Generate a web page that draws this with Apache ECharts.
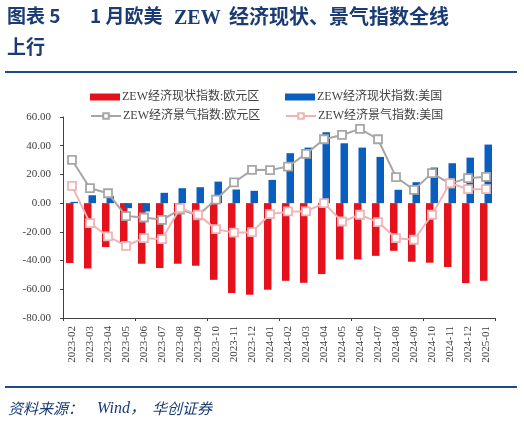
<!DOCTYPE html>
<html>
<head>
<meta charset="utf-8">
<script src="https://cdn.jsdelivr.net/npm/echarts@6/dist/echarts.min.js"></script>
<style>
html,body{margin:0;padding:0;background:#fff;}
#c{width:524px;height:424px;}
</style>
</head>
<body>
<div id="c"></div>
<script>
const categories = ['2023-02','2023-03','2023-04','2023-05','2023-06','2023-07','2023-08','2023-09','2023-10','2023-11','2023-12','2024-01','2024-02','2024-03','2024-04','2024-05','2024-06','2024-07','2024-08','2024-09','2024-10','2024-11','2024-12','2025-01'];
const euroCurrent = [-41.7,-45.5,-30.6,-27.3,-42.2,-45.2,-42.2,-43.6,-53.4,-62.6,-63.8,-60.3,-54.1,-55.5,-49.4,-39.2,-39.2,-36.7,-33.2,-40.8,-41.5,-44.5,-55.7,-54.1];
const usCurrent = [0.9,5.5,4.8,-3.5,-5.8,7.2,10.4,11.1,15.0,9.5,8.6,16.2,34.8,38.7,49.4,41.7,38.7,32.2,9.3,14.6,24.8,27.8,31.7,40.8];
const euroSentiment = [30.1,10.4,6.9,-9.0,-10.0,-11.6,-4.5,-8.5,2.5,14.4,23.2,23.0,25.5,34.3,44.5,47.5,51.7,44.5,18.1,9.3,20.9,13.6,17.4,18.3];
const usSentiment = [12.0,-13.9,-23.2,-29.7,-24.4,-25.0,-3.5,-8.0,-18.1,-20.6,-20.2,-7.7,-5.8,-5.8,0.0,-12.8,-8.1,-13.2,-24.4,-25.5,-8.1,14.0,9.7,9.7];
const seriesNames = ['ZEW经济现状指数:欧元区','ZEW经济现状指数:美国','ZEW经济景气指数:欧元区','ZEW经济景气指数:美国'];
const yTicks = {min:-80, max:60, interval:20};

const navy = '#1B3B74';
const serif = '"Liberation Serif","Noto Sans CJK SC",serif';
const cjk = '"Noto Sans CJK SC","Liberation Serif",sans-serif';
const chart = echarts.init(document.getElementById('c'), null, {renderer:'canvas'});

function legendAt(i, left, top, opts) {
  return Object.assign({
    data:[seriesNames[i]], left:left, top:top, itemWidth:30, itemHeight:7, padding:0,
    textStyle:{fontFamily:serif, fontSize:12, color:'#404040', padding:[0,0,0,-3]},
    selectedMode:false
  }, opts||{});
}

chart.setOption({
  animation:false,
  backgroundColor:'#fff',
  graphic:[
    {type:'text', left:7, top:6, style:{text:'图表 5', font:'bold 19px '+cjk, fill:navy}},
    {type:'text', left:90, top:6, style:{text:'1 月欧美', font:'bold 19px '+cjk, fill:navy}},
    {type:'text', left:174, top:9, style:{text:'ZEW', font:'bold 20px '+serif, fill:navy}},
    {type:'text', left:229, top:6, style:{text:'经济现状、景气指数全线', font:'bold 20px '+cjk, fill:navy}},
    {type:'text', left:7, top:37, style:{text:'上行', font:'bold 19px '+cjk, fill:navy}},
    {type:'rect', shape:{x:5, y:71, width:512, height:2}, style:{fill:'#1F4A8A'}},
    {type:'rect', shape:{x:5, y:386, width:512, height:2}, style:{fill:'#1F4A8A'}},
    {type:'text', left:8, top:401, style:{text:'资料来源：', font:'italic 15px '+cjk, fill:navy}},
    {type:'text', left:97, top:401, style:{text:'Wind，', font:'italic 16px '+serif, fill:navy}},
    {type:'text', left:152, top:401, style:{text:'华创证券', font:'italic 15px '+cjk, fill:navy}}
  ],
  legend:[
    legendAt(0, 90, 91, {icon:'rect'}),
    legendAt(1, 285, 91, {icon:'rect'}),
    legendAt(2, 90, 110),
    legendAt(3, 285, 110)
  ],
  grid:{left:63, right:29, top:117, bottom:106, containLabel:false},
  xAxis:[
    {type:'category', data:categories, position:'bottom',
     axisLine:{show:false}, axisTick:{show:false},
     axisLabel:{interval:0, rotate:90, margin:8, fontFamily:serif, fontSize:11, color:'#404040'}},
    {type:'category', data:categories, position:'bottom',
     axisLine:{show:true, onZero:true, lineStyle:{color:'#404040', width:1}},
     axisTick:{show:true, length:3, inside:false, lineStyle:{color:'#404040'}},
     axisLabel:{show:false}, splitLine:{show:false}}
  ],
  yAxis:{type:'value', min:yTicks.min, max:yTicks.max, interval:yTicks.interval,
    axisLine:{show:true, lineStyle:{color:'#404040'}},
    axisTick:{show:true, length:3, lineStyle:{color:'#404040'}},
    splitLine:{show:false},
    axisLabel:{margin:12, fontFamily:serif, fontSize:11, color:'#404040', formatter:v=>v.toFixed(2)}},
  series:[
    {name:seriesNames[0], type:'bar', data:euroCurrent, xAxisIndex:0, barWidth:7.5, barGap:'-40%', itemStyle:{color:'#E5121D'}},
    {name:seriesNames[1], type:'bar', data:usCurrent, xAxisIndex:0, barWidth:7.5, barGap:'-40%', itemStyle:{color:'#0A5EBE'}},
    {name:seriesNames[2], type:'line', data:euroSentiment, xAxisIndex:0, symbol:'rect', symbolSize:8,
     lineStyle:{color:'#A6A6A6', width:2}, itemStyle:{color:'#fff', borderColor:'#A6A6A6', borderWidth:1.8}, z:3},
    {name:seriesNames[3], type:'line', data:usSentiment, xAxisIndex:0, symbol:'rect', symbolSize:8,
     lineStyle:{color:'#EDB5B5', width:2}, itemStyle:{color:'#fff', borderColor:'#EDB5B5', borderWidth:1.8}, z:4}
  ]
});
</script>
</body>
</html>
